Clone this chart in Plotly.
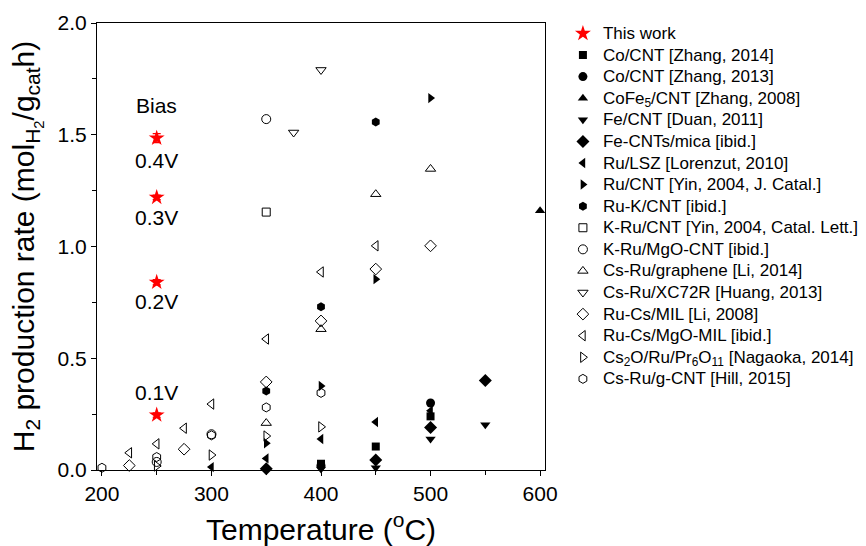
import plotly.graph_objects as go

# ---------------- data ----------------
this_work_T = [250, 250, 250, 250]
this_work_rate = [0.246, 0.84, 1.22, 1.485]
this_work_err = [0.01, 0.012, 0.01, 0.02]
bias_labels = ["0.1V", "0.2V", "0.3V", "0.4V"]
bias_label_y = [0.345, 0.752, 1.132, 1.387]

series_names = [
    "Co/CNT [Zhang, 2014]",
    "Co/CNT [Zhang, 2013]",
    "CoFe<sub>5</sub>/CNT [Zhang, 2008]",
    "Fe/CNT [Duan, 2011]",
    "Fe-CNTs/mica [ibid.]",
    "Ru/LSZ [Lorenzut, 2010]",
    "Ru/CNT [Yin, 2004, J. Catal.]",
    "Ru-K/CNT [ibid.]",
    "K-Ru/CNT [Yin, 2004, Catal. Lett.]",
    "K-Ru/MgO-CNT [ibid.]",
    "Cs-Ru/graphene [Li, 2014]",
    "Cs-Ru/XC72R [Huang, 2013]",
    "Ru-Cs/MIL [Li, 2008]",
    "Ru-Cs/MgO-MIL [ibid.]",
    "Cs<sub>2</sub>O/Ru/Pr<sub>6</sub>O<sub>11</sub> [Nagaoka, 2014]",
    "Cs-Ru/g-CNT [Hill, 2015]",
]
series_T = [
    [400, 450, 500],
    [400, 500],
    [600],
    [400, 450, 500, 550],
    [350, 450, 500, 550],
    [300, 350, 400, 450, 500],
    [350, 400, 450, 500],
    [350, 400, 450],
    [350],
    [250, 300, 350],
    [350, 400, 450, 500],
    [375, 400],
    [225, 275, 350, 400, 450, 500],
    [225, 250, 275, 300, 350, 400, 450],
    [250, 300, 350, 400],
    [200, 250, 300, 350, 400],
]
series_rate = [
    [0.028, 0.105, 0.24],
    [0.02, 0.30],
    [1.16],
    [0.005, 0.01, 0.139, 0.203],
    [0.006, 0.045, 0.19, 0.40],
    [0.013, 0.052, 0.139, 0.215, 0.265],
    [0.12, 0.376, 0.854, 1.664],
    [0.353, 0.73, 1.557],
    [1.154],
    [0.036, 0.16, 1.57],
    [0.21, 0.63, 1.234, 1.347],
    [1.51, 1.79],
    [0.02, 0.093, 0.394, 0.667, 0.899, 1.003],
    [0.077, 0.117, 0.187, 0.295, 0.586, 0.886, 1.003],
    [0.018, 0.067, 0.152, 0.193],
    [0.01, 0.058, 0.155, 0.28, 0.345],
]
series_symbols = [
    "square", "circle", "triangle-up", "triangle-down", "diamond",
    "triangle-left", "triangle-right", "hexagon",
    "square-open", "circle-open", "triangle-up-open", "triangle-down-open",
    "diamond-open", "triangle-left-open", "triangle-right-open", "hexagon-open",
]
series_sizes = [8, 9, 9, 9, 10, 9, 9, 9, 8, 9, 9, 9, 9, 9, 9, 9]

x_ticks = [200, 300, 400, 500, 600]
y_ticks = [0.0, 0.5, 1.0, 1.5, 2.0]

FONT = "Arial, Liberation Sans, sans-serif"


def big(txt):
    return '<span style="font-size:17px">' + txt + '</span>'


fig = go.Figure()

fig.add_trace(go.Scatter(
    x=this_work_T, y=this_work_rate, mode="markers", name=big("This work"),
    marker=dict(symbol="star", size=12, color="red", line=dict(width=0)),
    error_y=dict(type="data", array=this_work_err, color="red", thickness=1.2, width=4),
    cliponaxis=False,
))

for name, T, r, sym, sz in zip(series_names, series_T, series_rate, series_symbols, series_sizes):
    is_open = sym.endswith("-open")
    fig.add_trace(go.Scatter(
        x=T, y=r, mode="markers", name=big(name),
        marker=dict(symbol=sym, size=sz, color="black",
                    line=dict(width=1, color="black") if is_open else dict(width=0)),
        cliponaxis=False,
    ))

annotations = [dict(x=250, y=1.633, text="Bias", showarrow=False,
                    font=dict(family=FONT, size=21, color="black"), xref="x", yref="y")]
for lab, yy in zip(bias_labels, bias_label_y):
    annotations.append(dict(x=250, y=yy, text=lab, showarrow=False,
                            font=dict(family=FONT, size=21, color="black"), xref="x", yref="y"))

legend_cfg = dict(x=1.04, y=1.012, xanchor="left", yanchor="top",
                  font=dict(family=FONT, size=14.3, color="black"),
                  bgcolor="rgba(0,0,0,0)", tracegroupgap=0)

fig.update_layout(
    width=866, height=546,
    margin=dict(l=97, r=321, t=23, b=76, autoexpand=False),
    paper_bgcolor="white", plot_bgcolor="white",
    font=dict(family=FONT, color="black"),
    annotations=annotations,
    showlegend=True,
    legend=legend_cfg,
    xaxis=dict(
        range=[195.5, 604.5], tickvals=x_ticks, ticktext=[str(v) for v in x_ticks],
        showline=True, mirror=True, linecolor="black", linewidth=1,
        ticks="outside", ticklen=5, tickcolor="black", showgrid=False, zeroline=False,
        minor=dict(dtick=50, tick0=200, ticks="outside", ticklen=4, tickcolor="black", showgrid=False),
        tickfont=dict(family=FONT, size=21),
        title=dict(text="Temperature (<sup>o</sup>C)", font=dict(family=FONT, size=30), standoff=17),
    ),
    yaxis=dict(
        range=[0, 2], tickvals=y_ticks, ticktext=["%.1f" % v for v in y_ticks],
        showline=True, mirror=True, linecolor="black", linewidth=1,
        ticks="outside", ticklen=5, tickcolor="black", showgrid=False, zeroline=False,
        minor=dict(dtick=0.25, tick0=0, ticks="outside", ticklen=4, tickcolor="black", showgrid=False),
        tickfont=dict(family=FONT, size=21),
        title=dict(text="H<sub>2</sub> production rate (mol<sub>H<sub>2</sub></sub>/g<sub>cat</sub>h)",
                   font=dict(family=FONT, size=30), standoff=14),
    ),
)

try:
    fig.update_layout(legend_maxheight=1)
except Exception:
    pass

fig.write_html("out.html",
               config={"displayModeBar": False},
               post_script="document.body.style.margin='0';document.body.style.padding='0';")
